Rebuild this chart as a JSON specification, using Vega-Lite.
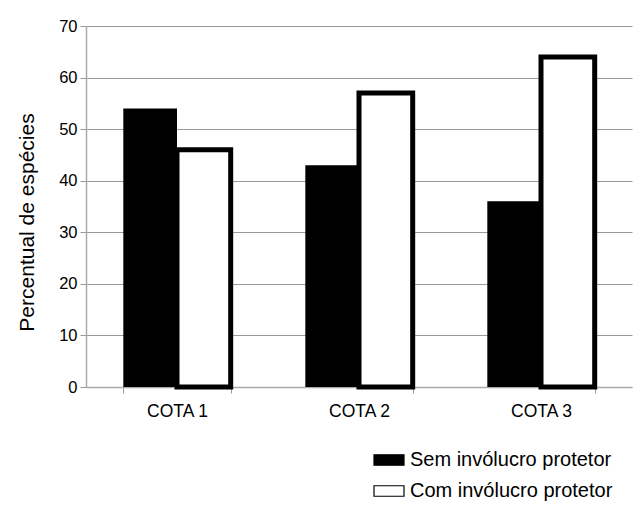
{
  "$schema": "https://vega.github.io/schema/vega-lite/v6.json",
  "autosize": "none",
  "width": 546,
  "height": 361,
  "padding": {"left": 86, "top": 26, "right": 11, "bottom": 129},
  "background": "white",
  "config": {
    "font": "Liberation Sans",
    "view": {"stroke": null}
  },
  "data": {
    "values": [
      {"cota": "COTA 1", "grupo": "Sem invólucro protetor", "valor": 54},
      {"cota": "COTA 1", "grupo": "Com invólucro protetor", "valor": 46},
      {"cota": "COTA 2", "grupo": "Sem invólucro protetor", "valor": 43},
      {"cota": "COTA 2", "grupo": "Com invólucro protetor", "valor": 57},
      {"cota": "COTA 3", "grupo": "Sem invólucro protetor", "valor": 36},
      {"cota": "COTA 3", "grupo": "Com invólucro protetor", "valor": 64}
    ]
  },
  "mark": {"type": "bar", "stroke": "black", "strokeJoin": "miter"},
  "encoding": {
    "x": {
      "field": "cota",
      "type": "nominal",
      "scale": {"paddingInner": 0.41, "paddingOuter": 0.205},
      "axis": {
        "title": null,
        "labelAngle": 0,
        "labelFontSize": 17.5,
        "labelColor": "black",
        "labelPadding": 9,
        "tickBand": "extent",
        "tickColor": "#999999",
        "tickSize": 6,
        "domainColor": "#aaaaaa",
        "domainWidth": 1.5
      }
    },
    "xOffset": {
      "field": "grupo",
      "type": "nominal",
      "sort": ["Sem invólucro protetor", "Com invólucro protetor"]
    },
    "y": {
      "field": "valor",
      "type": "quantitative",
      "scale": {"domain": [0, 70]},
      "axis": {
        "title": "Percentual de espécies",
        "titleFontSize": 21,
        "titleFontWeight": "normal",
        "titleColor": "black",
        "titleX": -59,
        "titleY": 196,
        "titleBaseline": "middle",
        "values": [0, 10, 20, 30, 40, 50, 60, 70],
        "labelFontSize": 16.5,
        "labelColor": "black",
        "labelPadding": 3,
        "tickColor": "#999999",
        "tickSize": 6,
        "gridColor": "#999999",
        "gridWidth": 1.2,
        "domainColor": "#aaaaaa",
        "domainWidth": 1.5
      }
    },
    "fill": {
      "field": "grupo",
      "type": "nominal",
      "sort": ["Sem invólucro protetor", "Com invólucro protetor"],
      "scale": {"range": ["black", "white"]},
      "legend": {
        "title": null,
        "orient": "none",
        "legendX": 287,
        "legendY": 418,
        "symbolType": "M-1,-0.35H1V0.35H-1Z",
        "symbolSize": 900,
        "symbolStrokeColor": "black",
        "symbolStrokeWidth": 1.2,
        "labelFontSize": 20,
        "labelColor": "black",
        "labelOffset": 5,
        "rowPadding": 5,
        "labelLimit": 400
      }
    },
    "strokeWidth": {
      "field": "grupo",
      "type": "nominal",
      "sort": ["Sem invólucro protetor", "Com invólucro protetor"],
      "scale": {"range": [0, 5]},
      "legend": null
    }
  }
}
